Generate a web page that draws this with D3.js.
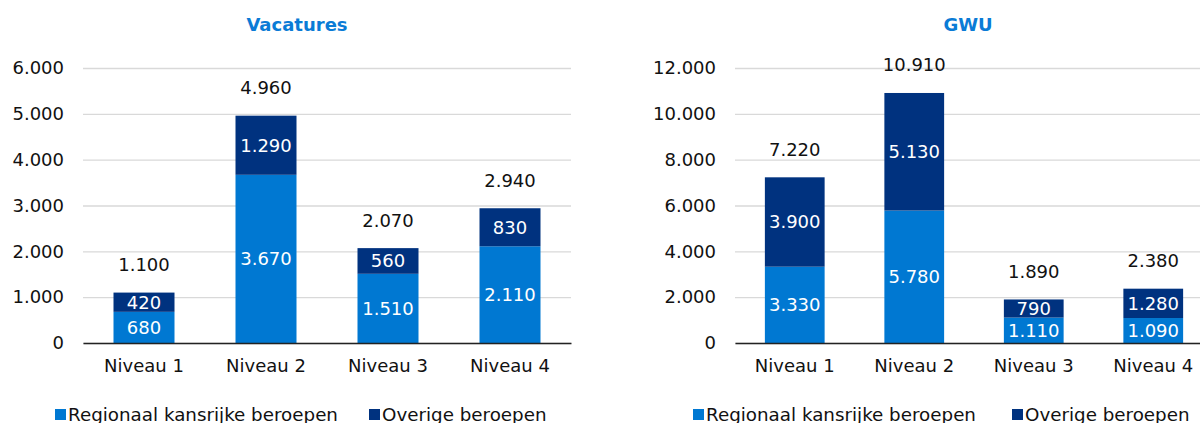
<!DOCTYPE html>
<html>
<head>
<meta charset="utf-8">
<script src="https://cdn.jsdelivr.net/npm/d3@7"></script>
<style>
  body { margin: 0; background: #fff; }
  svg, svg text { font-family: Verdana, "DejaVu Sans", sans-serif; }
</style>
</head>
<body>
<svg id="chart" width="1200" height="423"></svg>
<script>
const categories = ['Niveau 1', 'Niveau 2', 'Niveau 3', 'Niveau 4'];
const seriesNames = ['Regionaal kansrijke beroepen', 'Overige beroepen'];

const vacRegionaal = [680, 3670, 1510, 2110];
const vacOverig = [420, 1290, 560, 830];
const vacTotal = [1100, 4960, 2070, 2940];
const vacTicks = [0, 1000, 2000, 3000, 4000, 5000, 6000];

const gwuRegionaal = [3330, 5780, 1110, 1090];
const gwuOverig = [3900, 5130, 790, 1280];
const gwuTotal = [7220, 10910, 1890, 2380];
const gwuTicks = [0, 2000, 4000, 6000, 8000, 10000, 12000];

const colors = ['#0078d2', '#00327f'];
const nl = d3.formatLocale({decimal: ',', thousands: '.', grouping: [3], currency: ['€', '']});
const fmt = nl.format(',');

const svg = d3.select('#chart');

function panel(opts) {
    const top = 68, bottom = 343;
    const g = svg.append('g');

    const x = d3.scaleBand().domain(categories).range([opts.x0, opts.x0 + opts.step * 4]).paddingInner(0.5).paddingOuter(0.25);
    const y = d3.scaleLinear().domain([0, d3.max(opts.ticks)]).range([bottom, top]);

    // title
    g.append('text').attr('x', opts.titleX).attr('y', 25).attr('dy', '0.35em')
        .attr('text-anchor', 'middle').attr('font-weight', 'bold').attr('font-size', 18)
        .attr('fill', '#0a7bd6').text(opts.title);

    // gridlines + tick labels
    const yAxis = g.append('g').attr('transform', `translate(${opts.x0},0)`)
        .call(d3.axisLeft(y).tickValues(opts.ticks).tickSize(-(opts.step * 4)).tickPadding(19).tickFormat(fmt))
        .attr('font-family', null).attr('font-size', 18);
    yAxis.select('.domain').remove();
    yAxis.selectAll('.tick line').attr('stroke', '#d9d9d9').attr('stroke-width', 1.3);
    yAxis.selectAll('.tick text').attr('fill', '#111');

    const rows = categories.map((c, i) => ({cat: c, a: opts.regionaal[i], b: opts.overig[i]}));
    const stacked = d3.stack().keys(['a', 'b'])(rows);

    const layers = g.selectAll('.layer').data(stacked).enter().append('g').attr('fill', (d, i) => colors[i]);
    layers.selectAll('rect').data(d => d).enter().append('rect')
        .attr('x', d => x(d.data.cat))
        .attr('width', x.bandwidth())
        .attr('y', d => y(d[1]))
        .attr('height', d => y(d[0]) - y(d[1]));

    // segment labels
    layers.selectAll('text').data(d => d).enter().append('text')
        .attr('x', d => x(d.data.cat) + x.bandwidth() / 2)
        .attr('y', d => (y(d[0]) + y(d[1])) / 2)
        .attr('dy', '0.36em').attr('text-anchor', 'middle')
        .attr('font-size', 18).attr('fill', '#fff')
        .text(d => fmt(d[1] - d[0]));

    // totals
    g.selectAll('.total').data(opts.total).enter().append('text')
        .attr('x', (d, i) => x(categories[i]) + x.bandwidth() / 2)
        .attr('y', (d, i) => y(opts.regionaal[i] + opts.overig[i]) - 28)
        .attr('dy', '0.36em').attr('text-anchor', 'middle')
        .attr('font-size', 18).attr('fill', '#111')
        .text(d => fmt(d));

    // x axis
    const xAxis = g.append('g').attr('transform', `translate(0,${bottom})`)
        .call(d3.axisBottom(x).tickSize(0).tickPadding(16))
        .attr('font-family', null).attr('font-size', 18);
    xAxis.select('.domain').attr('stroke', '#222').attr('stroke-width', 1.5);
    xAxis.selectAll('.tick text').attr('fill', '#111');

    // legend
    const lg = g.selectAll('.lg').data(seriesNames).enter().append('g')
        .attr('transform', (d, i) => `translate(${opts.legendX[i]},409)`);
    lg.append('rect').attr('width', 11).attr('height', 11).attr('fill', (d, i) => colors[i]);
    lg.append('text').attr('x', 13).attr('y', 5.5).attr('dy', '0.36em')
        .attr('font-size', 18.3).attr('fill', '#111').text(d => d);
}

panel({title: 'Vacatures', titleX: 297, x0: 83, step: 122, ticks: vacTicks,
    regionaal: vacRegionaal, overig: vacOverig, total: vacTotal, legendX: [55, 369]});
panel({title: 'GWU', titleX: 968, x0: 735, step: 119.5, ticks: gwuTicks,
    regionaal: gwuRegionaal, overig: gwuOverig, total: gwuTotal, legendX: [693, 1012]});
</script>
</body>
</html>
